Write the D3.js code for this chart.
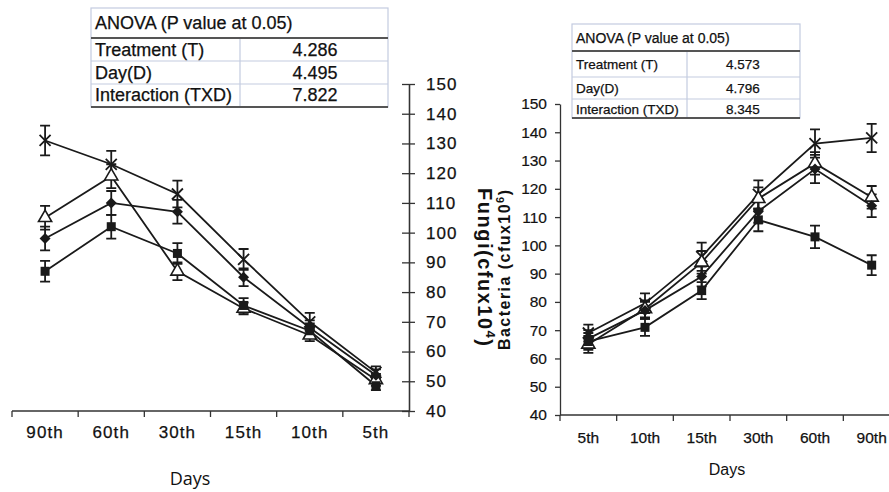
<!DOCTYPE html>
<html><head><meta charset="utf-8">
<script src="https://cdn.jsdelivr.net/npm/d3@7"></script>
<style>body{margin:0;background:#fff}svg{display:block}</style>
</head><body>
<svg id="c" width="889" height="492"></svg>
<script>
// ---------- data ----------
const fungiDays = ["90th","60th","30th","15th","10th","5th"];
const bacteriaDays = ["5th","10th","15th","30th","60th","90th"];
const yTicks = [40,50,60,70,80,90,100,110,120,130,140,150];

const fungiCross    = [131, 123, 113, 91, 70, 53];
const fungiCrossErr = [5, 4.5, 4.5, 3.5, 3, 2];
const fungiTri      = [105, 119, 87, 74.5, 65.5, 50.5];
const fungiTriErr   = [4, 4, 3, 2, 2, 2];
const fungiDia      = [98, 110, 107, 85, 68, 52];
const fungiDiaErr   = [4, 4, 4, 3, 2.5, 2];
const fungiSq       = [87, 102, 93, 75.5, 67, 48.5];
const fungiSqErr    = [3.5, 4, 3.5, 2.5, 2.5, 1.5];

const bactCross     = [69, 79.5, 96, 118, 136, 138];
const bactCrossErr  = [3, 3.5, 5, 5, 5, 5];
const bactTri       = [65, 77.5, 94, 116.5, 129, 117];
const bactTriErr    = [3, 3, 4, 4, 4, 4];
const bactDia       = [67, 77, 89, 112, 127, 114];
const bactDiaErr    = [3, 3, 3.5, 4, 5, 4];
const bactSq        = [66, 71, 84, 109, 103, 93];
const bactSqErr     = [3, 3, 3, 4, 4, 3.5];

const anovaTitle = "ANOVA (P value at 0.05)";
const anovaRows = ["Treatment (T)", "Day(D)", "Interaction (TXD)"];
const anovaFungi = ["4.286", "4.495", "7.822"];
const anovaBacteria = ["4.573", "4.796", "8.345"];

// ---------- drawing ----------
const svg = d3.select("#c");
const FONT = "'Liberation Sans', Arial, sans-serif";
const INK = "#1a1a1a";

function drawMarker(g, type, cx, cy) {
  if (type === "cross") {
    const r = 5.5;
    g.append("path").attr("d", `M${cx-r},${cy-r}L${cx+r},${cy+r}M${cx-r},${cy+r}L${cx+r},${cy-r}`)
      .attr("stroke", INK).attr("stroke-width", 1.8).attr("fill", "none");
  } else if (type === "triangle") {
    g.append("path").attr("d", d3.symbol(d3.symbolTriangle, 75)())
      .attr("transform", `translate(${cx},${cy})`)
      .attr("fill", "#fff").attr("stroke", INK).attr("stroke-width", 1.6);
  } else if (type === "diamond") {
    const r = 5.5;
    g.append("path").attr("d", `M${cx},${cy-r}L${cx+r},${cy}L${cx},${cy+r}L${cx-r},${cy}Z`)
      .attr("fill", INK);
  } else if (type === "square") {
    g.append("rect").attr("x", cx-4.5).attr("y", cy-4.5).attr("width", 9).attr("height", 9)
      .attr("fill", INK);
  }
}

function drawPanel(cfg) {
  const x = d3.scaleBand().domain(cfg.days).range([cfg.x0, cfg.x1]).paddingInner(0).paddingOuter(0);
  const y = d3.scaleLinear().domain([40, 150]).range([cfg.yb, cfg.yt]);
  const g = svg.append("g");
  const cx = d => x(d) + x.bandwidth() / 2;

  g.append("line").attr("x1", cfg.x0).attr("x2", cfg.xAxisEnd).attr("y1", cfg.yb).attr("y2", cfg.yb)
    .attr("stroke", "#333").attr("stroke-width", 1.3);
  const edges = cfg.days.map(d => x(d)).concat([cfg.x1]);
  g.selectAll(null).data(edges).join("line")
    .attr("x1", d => d).attr("x2", d => d).attr("y1", cfg.yb).attr("y2", cfg.yb + 6)
    .attr("stroke", "#333").attr("stroke-width", 1.3);
  const xa = g.append("g").attr("transform", `translate(0,${cfg.yb})`)
    .call(d3.axisBottom(x).tickSize(0).tickPadding(cfg.xPad));
  xa.select(".domain").remove();
  xa.selectAll("text").attr("font-family", FONT).attr("font-size", cfg.tickFont)
    .attr("letter-spacing", cfg.letterSp).attr("fill", "#111")
    .attr("stroke", "#111").attr("stroke-width", 0.25);

  if (cfg.yRight) {
    const ya1 = g.append("g").attr("transform", `translate(${cfg.x1},0)`)
      .call(d3.axisLeft(y).tickValues(yTicks).tickSizeInner(7).tickSizeOuter(0).tickFormat(""));
    const ya2 = g.append("g").attr("transform", `translate(${cfg.x1},0)`)
      .call(d3.axisRight(y).tickValues(yTicks).tickSizeInner(6).tickSizeOuter(0).tickPadding(11));
    [ya1, ya2].forEach(a => { a.selectAll("line,path").attr("stroke", "#333").attr("stroke-width", 1.3); });
    ya2.selectAll("text").attr("font-family", FONT).attr("font-size", cfg.tickFont)
      .attr("letter-spacing", cfg.letterSp).attr("fill", "#111")
      .attr("stroke", "#111").attr("stroke-width", 0.25);
  } else {
    const ya = g.append("g").attr("transform", `translate(${cfg.x0},0)`)
      .call(d3.axisLeft(y).tickValues(yTicks).tickSizeInner(5).tickSizeOuter(0).tickPadding(8));
    ya.selectAll("line,path").attr("stroke", "#333").attr("stroke-width", 1.3);
    ya.selectAll("text").attr("font-family", FONT).attr("font-size", cfg.yTickFont).attr("fill", "#111")
      .attr("stroke", "#111").attr("stroke-width", 0.2);
  }

  const line = d3.line().x(d => cx(d.day)).y(d => y(d.v));
  cfg.series.forEach(s => {
    const pts = cfg.days.map((d, i) => ({day: d, v: s.vals[i], e: s.errs[i]}));
    pts.forEach(p => {
      const X = cx(p.day), t = y(p.v + p.e), b = y(p.v - p.e);
      g.append("path").attr("d", `M${X},${t}V${b}M${X-5},${t}H${X+5}M${X-5},${b}H${X+5}`)
        .attr("stroke", INK).attr("stroke-width", 1.8).attr("fill", "none");
    });
    g.append("path").datum(pts).attr("d", line).attr("fill", "none")
      .attr("stroke", INK).attr("stroke-width", 1.8);
  });
  cfg.series.forEach(s => {
    cfg.days.forEach((d, i) => drawMarker(g, s.type, cx(d), y(s.vals[i])));
  });
}

drawPanel({
  days: fungiDays, x0: 12, x1: 409, xAxisEnd: 409, yb: 411, yt: 84, yRight: true,
  tickFont: "17px", letterSp: "1.1px", xPad: 15,
  series: [
    {type: "cross", vals: fungiCross, errs: fungiCrossErr},
    {type: "triangle", vals: fungiTri, errs: fungiTriErr},
    {type: "diamond", vals: fungiDia, errs: fungiDiaErr},
    {type: "square", vals: fungiSq, errs: fungiSqErr}
  ]
});

drawPanel({
  days: bacteriaDays, x0: 560, x1: 900, xAxisEnd: 889, yb: 415, yt: 104, yRight: false,
  tickFont: "15.5px", yTickFont: "15.5px", letterSp: "0px", xPad: 17,
  series: [
    {type: "cross", vals: bactCross, errs: bactCrossErr},
    {type: "triangle", vals: bactTri, errs: bactTriErr},
    {type: "diamond", vals: bactDia, errs: bactDiaErr},
    {type: "square", vals: bactSq, errs: bactSqErr}
  ]
});

// axis titles
svg.append("text").attr("x", 190).attr("y", 485).attr("text-anchor", "middle")
  .attr("font-family", "'Open Sans', 'Noto Sans', sans-serif").attr("font-size", "18px").attr("fill", "#111").text("Days");
svg.append("text").attr("x", 727).attr("y", 475).attr("text-anchor", "middle")
  .attr("font-family", FONT).attr("font-size", "16px").attr("fill", "#111").text("Days");

const fl = svg.append("text").attr("transform", "translate(478,188) rotate(90)")
  .attr("font-family", FONT).attr("font-size", "20px").attr("font-weight", "bold").attr("fill", "#111")
  .attr("textLength", 158).attr("lengthAdjust", "spacing");
fl.append("tspan").text("Fungi(cfux10");
fl.append("tspan").attr("font-size", "13px").attr("dy", -8).text("4");
fl.append("tspan").attr("dy", 8).text(")");

const bl = svg.append("text").attr("transform", "translate(510,350) rotate(-90)")
  .attr("font-family", FONT).attr("font-size", "16px").attr("font-weight", "bold").attr("fill", "#111")
  .attr("textLength", 160).attr("lengthAdjust", "spacing");
bl.append("tspan").text("Bacteria (cfux10");
bl.append("tspan").attr("font-size", "11px").attr("dy", -6).text("6");
bl.append("tspan").attr("dy", 6).text(")");

// ANOVA tables
function drawTable(cfg) {
  const g = svg.append("g");
  const [xa, xb] = [cfg.x0, cfg.x1];
  const ys = cfg.rows;
  g.append("rect").attr("x", xa).attr("y", ys[0]).attr("width", xb - xa).attr("height", ys[4] - ys[0])
    .attr("fill", "#fff").attr("stroke", "#c3cbe0").attr("stroke-width", 1.2);
  [ys[2], ys[3]].forEach(yy => g.append("line").attr("x1", xa).attr("x2", xb).attr("y1", yy).attr("y2", yy)
    .attr("stroke", "#c3cbe0").attr("stroke-width", 1.2));
  g.append("line").attr("x1", cfg.xm).attr("x2", cfg.xm).attr("y1", ys[1]).attr("y2", ys[4])
    .attr("stroke", "#c3cbe0").attr("stroke-width", 1.2);
  [ys[1], ys[4]].forEach(yy => g.append("line").attr("x1", xa).attr("x2", xb).attr("y1", yy).attr("y2", yy)
    .attr("stroke", "#555").attr("stroke-width", 2));
  g.append("text").attr("x", xa + 4).attr("y", cfg.base[0]).attr("font-family", FONT)
    .attr("font-size", cfg.titleFont).attr("fill", "#111")
    .attr("stroke", "#111").attr("stroke-width", 0.25).text(anovaTitle);
  anovaRows.forEach((r, i) => {
    g.append("text").attr("x", xa + 4).attr("y", cfg.base[i + 1]).attr("font-family", FONT)
      .attr("font-size", cfg.font).attr("fill", "#111")
      .attr("stroke", "#111").attr("stroke-width", 0.25).text(r);
    g.append("text").attr("x", cfg.valX).attr("y", cfg.base[i + 1]).attr("text-anchor", "middle")
      .attr("font-family", FONT).attr("font-size", cfg.font).attr("fill", "#111")
      .attr("stroke", "#111").attr("stroke-width", 0.25).text(cfg.vals[i]);
  });
}
drawTable({x0: 91, x1: 388, xm: 240, rows: [8, 38, 61, 84, 107], base: [29, 56, 79, 101],
  valX: 315, titleFont: "18px", font: "18px", vals: anovaFungi});
drawTable({x0: 572, x1: 800, xm: 687, rows: [24, 51, 77, 99, 118], base: [43, 69, 93, 114],
  valX: 743, titleFont: "14px", font: "13.5px", vals: anovaBacteria});
</script>
</body></html>
